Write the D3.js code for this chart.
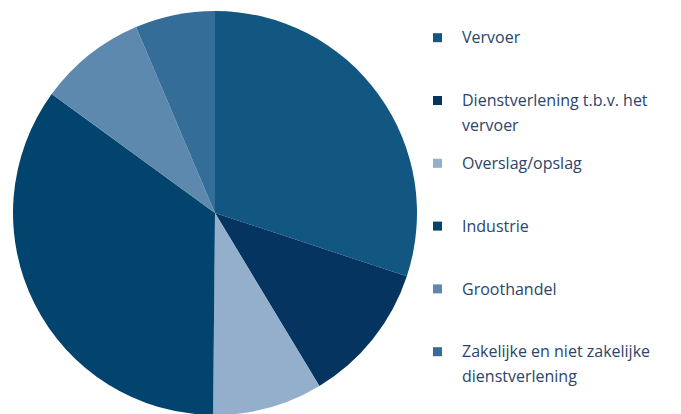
<!DOCTYPE html>
<html>
<head>
<meta charset="utf-8">
<script src="https://cdn.jsdelivr.net/npm/d3@7"></script>
<style>
  html, body { margin: 0; padding: 0; background: #fff; }
  svg { display: block; }
  .legend-text { font-family: "Open Sans", sans-serif; font-size: 16px; fill: #2c4469; }
</style>
</head>
<body>
<div id="chart"></div>
<script>
const categories = [
  "Vervoer",
  "Dienstverlening t.b.v. het vervoer",
  "Overslag/opslag",
  "Industrie",
  "Groothandel",
  "Zakelijke en niet zakelijke dienstverlening"
];
const shares = [30.1, 11.3, 8.8, 34.9, 8.6, 6.4];
const colors = ["#125682", "#04345f", "#93afcb", "#03446e", "#5d89af", "#346d98"];

const width = 681;
const height = 414;
const cx = 215;
const cy = 213;
const radius = 202;

const svg = d3.select("#chart").append("svg")
  .attr("width", width)
  .attr("height", height);

const color = d3.scaleOrdinal().domain(categories).range(colors);

const pie = d3.pie()
  .sort(null)
  .value((d, i) => shares[i]);

const arc = d3.arc().innerRadius(0).outerRadius(radius);

svg.append("g")
  .attr("transform", `translate(${cx},${cy})`)
  .selectAll("path")
  .data(pie(categories))
  .join("path")
  .attr("d", arc)
  .attr("fill", (d) => color(d.data));

// legend
const y = d3.scalePoint().domain(categories).range([37.7, 351.7]);
const textX = 462;
const maxWidth = 225;
const lineHeight = 25;

const legend = svg.append("g").attr("class", "legend");
const item = legend.selectAll("g")
  .data(categories)
  .join("g")
  .attr("transform", (d) => `translate(0,${y(d)})`);

item.append("rect")
  .attr("x", 433)
  .attr("y", -4.5)
  .attr("width", 9)
  .attr("height", 9)
  .attr("fill", (d) => color(d));

item.append("text")
  .attr("class", "legend-text")
  .attr("x", textX)
  .each(function (d) {
    const text = d3.select(this);
    const words = d.split(" ");
    let line = [];
    let tspan = text.append("tspan").attr("x", textX).attr("dy", "0.35em");
    words.forEach((w) => {
      line.push(w);
      tspan.text(line.join(" "));
      if (tspan.node().getComputedTextLength() > maxWidth && line.length > 1) {
        line.pop();
        tspan.text(line.join(" "));
        line = [w];
        tspan = text.append("tspan")
          .attr("x", textX)
          .attr("dy", lineHeight)
          .text(w);
      }
    });
  });
</script>
</body>
</html>
